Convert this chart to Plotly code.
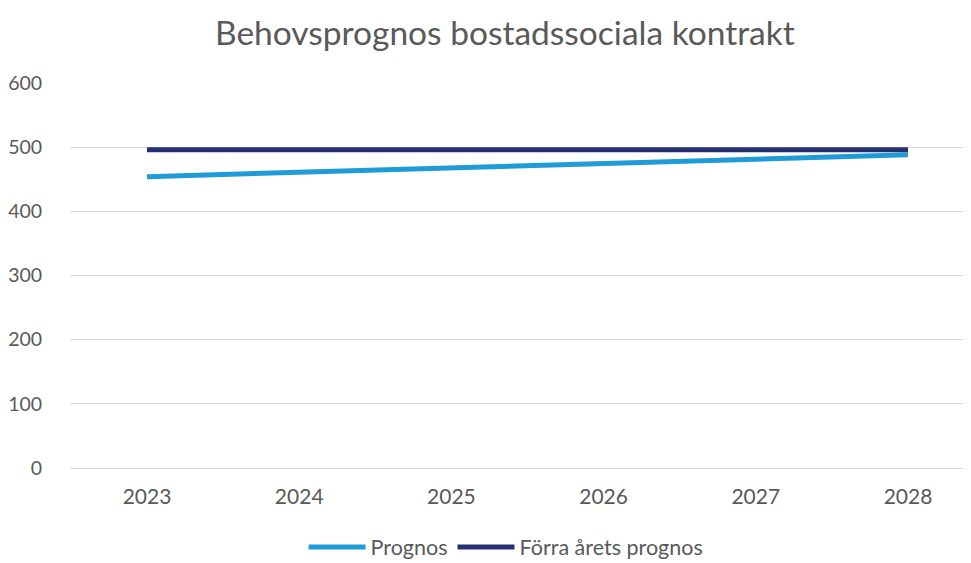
import plotly.graph_objects as go

years = ["2023", "2024", "2025", "2026", "2027", "2028"]
prognos = [454, 461, 468, 475, 481, 488]
forra = [496, 496, 496, 496, 496, 496]

fig = go.Figure()
fig.add_trace(go.Scatter(x=years, y=prognos, mode="lines", name="Prognos",
                         line=dict(color="#1F9BD7", width=5)))
fig.add_trace(go.Scatter(x=years, y=forra, mode="lines", name="Förra årets prognos",
                         line=dict(color="#253070", width=5)))

fig.update_layout(
    width=963, height=555,
    paper_bgcolor="white", plot_bgcolor="white",
    margin=dict(l=62, r=0, t=75, b=95, autoexpand=False),
    font=dict(family="Lato, sans-serif", color="#595959", size=21),
    title=dict(text="Behovsprognos bostadssociala kontrakt", x=0.516, xanchor="center",
               y=0.955, yanchor="middle", font=dict(size=33.5, color="#595959")),
    legend=dict(orientation="h", x=0.484, xanchor="center", y=-0.205, yanchor="middle",
                font=dict(size=21.5, color="#595959"), itemwidth=57),
    xaxis=dict(type="category", range=[-0.506, 5.414], showgrid=False, automargin=False,
               showline=True, linecolor="#D9D9D9", linewidth=1,
               ticks="outside", ticklen=10, tickcolor="rgba(0,0,0,0)",
               tickfont=dict(size=21, color="#595959")),
    yaxis=dict(range=[0, 600], dtick=100, showgrid=True, gridcolor="#D9D9D9", automargin=False,
               gridwidth=1, zeroline=False, ticks="outside", ticklen=23,
               tickcolor="rgba(0,0,0,0)", tickfont=dict(size=19.5, color="#595959")),
)
fig.write_html("out.html")
